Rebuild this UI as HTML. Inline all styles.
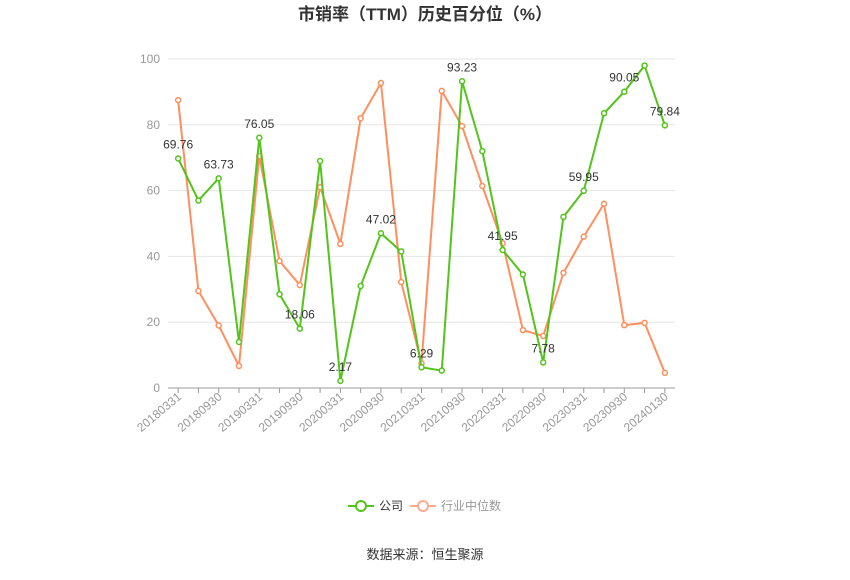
<!DOCTYPE html>
<html><head><meta charset="utf-8"><style>
body{margin:0;background:#fff;font-family:"Liberation Sans","Noto Sans CJK SC",sans-serif;}
svg text{font-family:"Liberation Sans","Noto Sans CJK SC",sans-serif;}
</style></head><body>
<svg id="c" width="850" height="575">
<text x="425" y="20" text-anchor="middle" font-size="17" font-weight="bold" fill="#333">市销率（TTM）历史百分位（%）</text>
<g id="grid"></g><g id="xax"></g><g id="series"></g>
<g>
<line x1="348" y1="506" x2="374" y2="506" stroke="#52c41a" stroke-width="2"/>
<circle cx="361" cy="506" r="5" fill="#fff" stroke="#52c41a" stroke-width="2"/>
<text x="379" y="510" font-size="12" fill="#333">公司</text>
<line x1="410" y1="506" x2="436" y2="506" stroke="#ffab91" stroke-width="2"/>
<circle cx="423" cy="506" r="5" fill="#fff" stroke="#ffab91" stroke-width="2"/>
<text x="441" y="510" font-size="12" fill="#999">行业中位数</text>
</g>
<text x="425" y="559" text-anchor="middle" font-size="13" fill="#333">数据来源：恒生聚源</text>
</svg>
<script>
const categories=["20180331","20180630","20180930","20181231","20190331","20190630","20190930","20191231","20200331","20200630","20200930","20201231","20210331","20210630","20210930","20211231","20220331","20220630","20220930","20221231","20230331","20230630","20230930","20231231","20240130"];
const companyValues=[69.76,57,63.73,14,76.05,28.5,18.06,69,2.17,31,47.02,41.5,6.29,5.3,93.23,72,41.95,34.5,7.78,52,59.95,83.5,90.05,98,79.84];
const industryValues=[87.5,29.5,19,6.7,70.5,38.6,31.3,61,43.8,82,92.7,32.2,7.5,90.3,79.6,61.4,44,17.6,15.8,35,46,56,19.1,19.8,4.6];
const yTicks=[0,20,40,60,80,100];
const labelIdx=[0,2,4,6,8,10,12,14,16,18,20,22,24];
const NS="http://www.w3.org/2000/svg";
const x0=168,x1=675,yB=388,yT=59;
const step=(x1-x0)/categories.length;
const X=i=>x0+step*(i+0.5);
const Y=v=>yB-(v/100)*(yB-yT);
function mk(t,a,p){const e=document.createElementNS(NS,t);for(const k in a)e.setAttribute(k,a[k]);p.appendChild(e);return e;}
const grid=document.getElementById('grid'),xax=document.getElementById('xax'),ser=document.getElementById('series');
yTicks.forEach(t=>{
 const l=mk('line',{x1:x0,x2:x1,y1:Y(t),y2:Y(t),stroke:t===0?'#999':'#e6e6e6'},grid);
 
 
 const tx=mk('text',{x:x0-8,y:Y(t)+4,'text-anchor':'end','font-size':12,fill:'#999'},grid);
 tx.textContent=t;
 
 
});
categories.forEach((c,i)=>{
 const tk=mk('line',{x1:X(i),x2:X(i),y1:yB,y2:yB+5,stroke:'#999'},xax);
 
 
 if(i%2===0){
  const t=mk('text',{x:X(i)+4,y:yB+10,'text-anchor':'end','font-size':12,fill:'#999',transform:`rotate(-40 ${X(i)+4} ${yB+10})`},xax);
  t.textContent=c;
  
  
 }
});
function series(vals,color,name){
 const p=mk('polyline',{points:vals.map((v,i)=>X(i)+','+Y(v)).join(' '),fill:'none',stroke:color,'stroke-width':2},ser);
 
 
 vals.forEach((v,i)=>{
  const c=mk('circle',{cx:X(i),cy:Y(v),r:2.5,fill:'#fff',stroke:color,'stroke-width':1.5},ser);
  
  
 });
}
series(industryValues,'#ff8f5e','industry');
series(companyValues,'#52c41a','company');
labelIdx.forEach(i=>{
 const t=mk('text',{x:X(i),y:Y(companyValues[i])-10,'text-anchor':'middle','font-size':12,fill:'#333'},ser);
 t.textContent=companyValues[i].toFixed(2);
 
 
});
</script>
</body></html>
